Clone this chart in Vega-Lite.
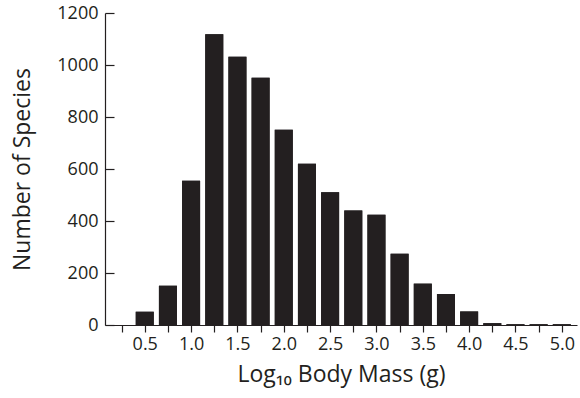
{
  "$schema": "https://vega.github.io/schema/vega-lite/v6.json",
  "width": 472,
  "height": 312,
  "autosize": {"type": "none"},
  "padding": {"left": 105, "top": 13, "right": 3, "bottom": 73},
  "background": "white",
  "config": {
    "view": {"stroke": null},
    "axis": {
      "labelFont": "Open Sans",
      "titleFont": "Open Sans",
      "labelColor": "#231f20",
      "titleColor": "#231f20",
      "domainColor": "#231f20",
      "tickColor": "#231f20",
      "labelFontSize": 18,
      "titleFontSize": 23,
      "titleFontWeight": "normal",
      "grid": false,
      "domainWidth": 1.2,
      "tickWidth": 1.2
    }
  },
  "data": {
    "values": [
      {"mass": 0.5, "species": 51},
      {"mass": 0.75, "species": 151},
      {"mass": 1.0, "species": 555},
      {"mass": 1.25, "species": 1118},
      {"mass": 1.5, "species": 1032},
      {"mass": 1.75, "species": 951},
      {"mass": 2.0, "species": 751},
      {"mass": 2.25, "species": 620},
      {"mass": 2.5, "species": 511},
      {"mass": 2.75, "species": 440},
      {"mass": 3.0, "species": 424},
      {"mass": 3.25, "species": 274},
      {"mass": 3.5, "species": 159},
      {"mass": 3.75, "species": 119},
      {"mass": 4.0, "species": 52},
      {"mass": 4.25, "species": 7},
      {"mass": 4.5, "species": 3},
      {"mass": 4.75, "species": 3},
      {"mass": 5.0, "species": 3}
    ]
  },
  "encoding": {
    "x": {
      "field": "mass",
      "type": "quantitative",
      "scale": {"domain": [0.125, 5.11], "nice": false, "zero": false},
      "axis": {
        "title": "Log₁₀ Body Mass (g)",
        "values": [0.25, 0.5, 0.75, 1.0, 1.25, 1.5, 1.75, 2.0, 2.25, 2.5, 2.75, 3.0, 3.25, 3.5, 3.75, 4.0, 4.25, 4.5, 4.75, 5.0],
        "labelExpr": "datum.value % 0.5 == 0 ? format(datum.value, '.1f') : ''",
        "tickSize": 7,
        "labelPadding": 3,
        "titlePadding": 10,
        "labelFlush": false,
        "labelOverlap": false
      }
    }
  },
  "layer": [
    {
      "mark": {"type": "bar", "size": 18, "color": "#231f20"},
      "encoding": {
        "y": {
          "field": "species",
          "type": "quantitative",
          "scale": {"domain": [0, 1200], "nice": false},
          "axis": {
            "title": "Number of Species",
            "values": [0, 200, 400, 600, 800, 1000, 1200],
            "format": "d",
            "ticks": false,
            "labelPadding": 7,
            "titlePadding": 22,
            "labelFlush": false,
            "labelOverlap": false
          }
        }
      }
    },
    {
      "mark": {"type": "bar", "size": 18, "color": "#231f20"},
      "encoding": {
        "y": {
          "field": "species",
          "type": "quantitative",
          "scale": {"domain": [0, 1200], "nice": false},
          "axis": {
            "orient": "left",
            "offset": -9,
            "title": null,
            "labels": false,
            "domain": false,
            "values": [0, 200, 400, 600, 800, 1000, 1200],
            "tickSize": 9
          }
        }
      }
    }
  ],
  "resolve": {"scale": {"y": "independent"}, "axis": {"y": "independent"}}
}
